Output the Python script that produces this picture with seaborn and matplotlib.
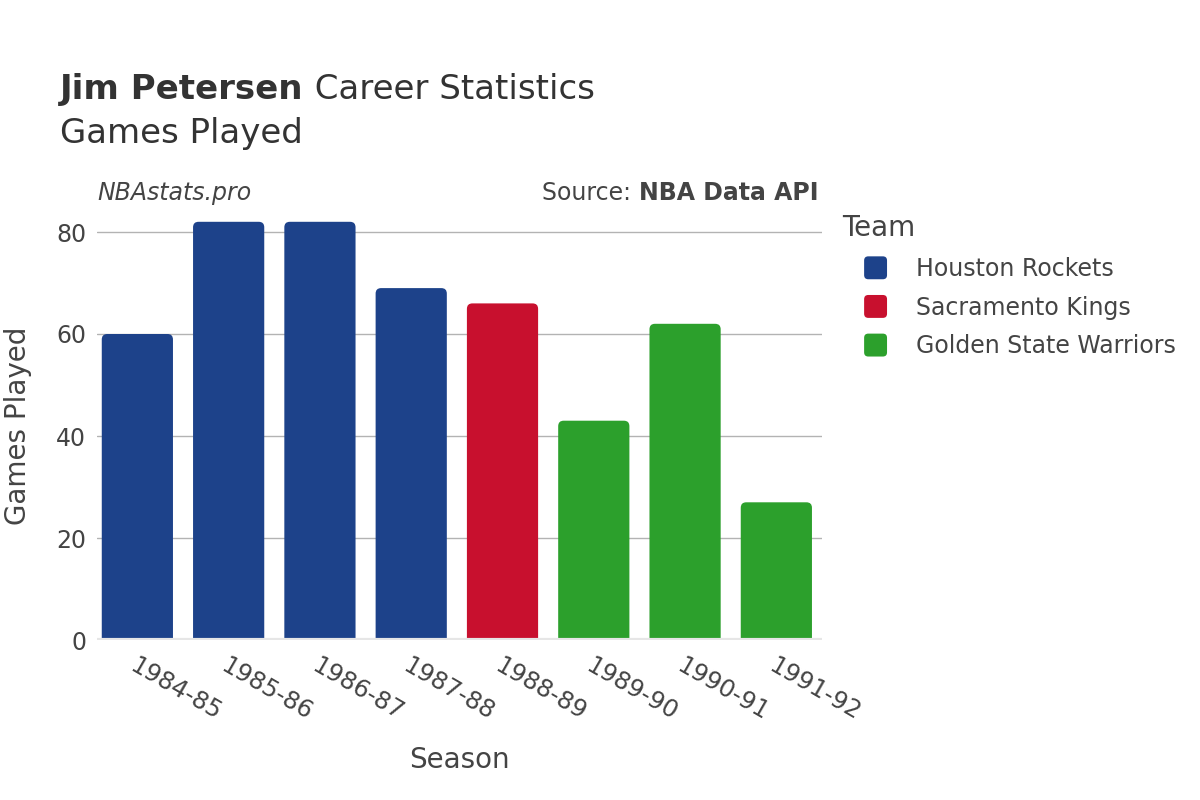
import matplotlib
matplotlib.use("Agg")
import matplotlib.pyplot as plt
from matplotlib.patches import FancyBboxPatch, Patch
from matplotlib.legend_handler import HandlerPatch
import seaborn as sns
import pandas as pd

# === Data ===
seasons = ["1984-85", "1985-86", "1986-87", "1987-88", "1988-89", "1989-90", "1990-91", "1991-92"]
games = [60, 82, 82, 69, 66, 43, 62, 27]
teams = ["Houston Rockets", "Houston Rockets", "Houston Rockets", "Houston Rockets",
         "Sacramento Kings", "Golden State Warriors", "Golden State Warriors", "Golden State Warriors"]
team_order = ["Houston Rockets", "Sacramento Kings", "Golden State Warriors"]
team_colors = ["#1d428a", "#c8102e", "#2ca02c"]

df = pd.DataFrame({"Season": seasons, "Games": games, "Team": teams})
palette = dict(zip(team_order, team_colors))

sns.set_style("white")
plt.rcParams["font.family"] = ["DejaVu Sans"]
txt = "#444444"


# rounded square swatches for the legend
class RoundSwatch(HandlerPatch):
    def create_artists(self, legend, orig_handle, xdescent, ydescent, width, height, fontsize, trans):
        s = 16.5
        x0 = 15.75 - xdescent
        y0 = height / 2 - s / 2 - ydescent
        p = FancyBboxPatch((x0, y0), s, s, boxstyle="round,pad=0,rounding_size=3",
                           fc=orig_handle.get_facecolor(), ec="none", transform=trans)
        return [p]


fig = plt.figure(figsize=(12, 8), dpi=100)
ax = fig.add_axes([0.081, 0.2, 0.604, 0.5355])

sns.barplot(data=df, x="Season", y="Games", hue="Team", hue_order=team_order,
            palette=palette, saturation=1, dodge=False, width=0.78, legend=False, ax=ax)

# px per unit on each axis, used to keep the corner round
px_x, px_y = 91.3, 5.1
for p in list(ax.patches):
    x0, w, h = p.get_x(), p.get_width(), p.get_height()
    fc = p.get_facecolor()
    p.remove()
    if h == 0 or pd.isna(h):
        continue
    rb = FancyBboxPatch((x0, -3), w, h + 3,
                        boxstyle="round,pad=0,rounding_size=0.06",
                        mutation_aspect=px_x / px_y,
                        fc=fc, ec="none", zorder=2)
    ax.add_patch(rb)

ax.set_xlim(-0.44, 7.5)
ax.set_ylim(0, 84)
ax.set_yticks([0, 20, 40, 60, 80])
for yv in [20, 40, 60, 80]:
    ax.axhline(yv, color="#b3b3b3", lw=1, zorder=1)
ax.axhline(0, color="#e6e6e6", lw=3, zorder=3)
for s in ax.spines.values():
    s.set_visible(False)

ax.tick_params(axis="y", labelsize=17, labelcolor=txt, length=0, pad=8)
ax.tick_params(axis="x", labelsize=17.5, labelcolor=txt, length=0, pad=10)
for lab in ax.get_xticklabels():
    lab.set_rotation(-30)
    lab.set_ha("left")
    lab.set_va("top")
    lab.set_rotation_mode("anchor")

ax.set_xlabel("Season", fontsize=20, color=txt, labelpad=15)
ax.set_ylabel("Games Played", fontsize=20, color=txt, labelpad=17)

# === Titles ===
t1 = fig.text(0.05, 0.876, "Jim Petersen", fontsize=24.5, fontweight="bold", color="#333333", va="baseline")
fig.canvas.draw()
ax.annotate(" Career Statistics", xy=(1, 0), xycoords=t1, fontsize=24.5, color="#333333", va="bottom",
            annotation_clip=False)
fig.text(0.05, 0.821, "Games Played", fontsize=24.5, color="#333333", va="baseline")

fig.text(0.081, 0.75, "NBAstats.pro", fontsize=17, style="italic", color=txt, va="baseline")
s1 = fig.text(0.682, 0.75, "NBA Data API", fontsize=17, fontweight="bold", color=txt, va="baseline", ha="right")
fig.canvas.draw()
ax.annotate("Source: ", xy=(0, 0), xycoords=s1, fontsize=17, color=txt, va="bottom", ha="right",
            annotation_clip=False)

# === Legend ===
handles = [Patch(facecolor=c) for c in team_colors]
leg = fig.legend(handles, team_order, title="Team", loc="upper left",
                 bbox_to_anchor=(0.694, 0.744), frameon=False, fontsize=17,
                 title_fontsize=20, labelspacing=0.62, handletextpad=0.735, borderaxespad=0,
                 handlelength=2.4, handleheight=1.0,
                 handler_map={Patch: RoundSwatch()})
leg._legend_box.align = "left"
for t in leg.get_texts():
    t.set_color(txt)
leg.get_title().set_color(txt)

fig.savefig("out.png", dpi=100)
